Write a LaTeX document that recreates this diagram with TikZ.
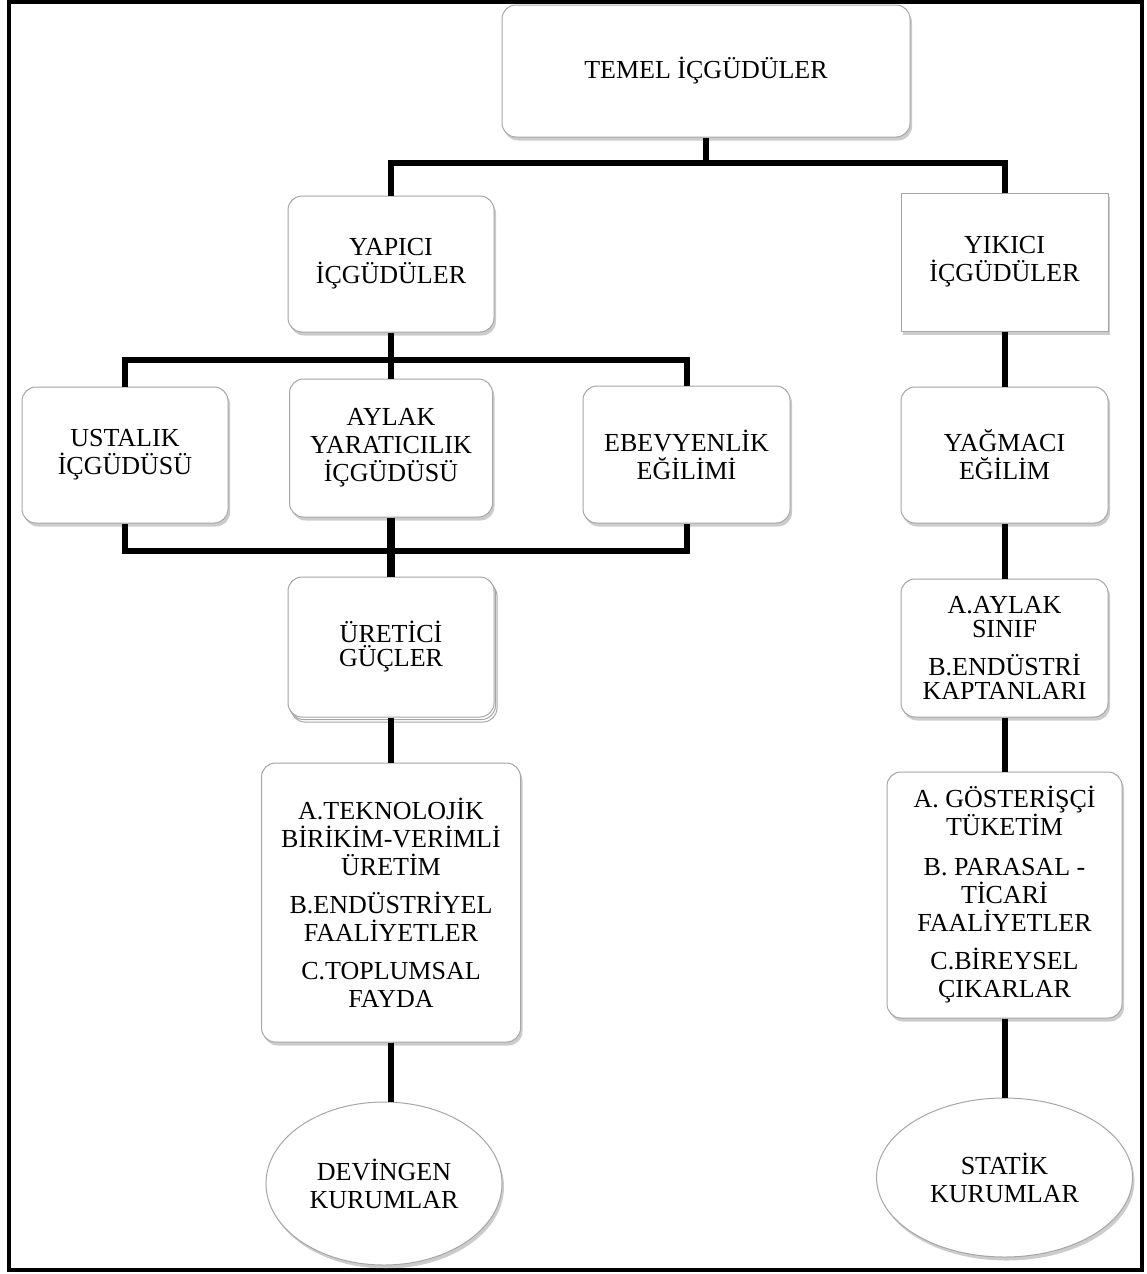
\documentclass[tikz,border=0pt]{standalone}
\usepackage{fontspec}
\setmainfont{Liberation Serif}
\usetikzlibrary{shapes.geometric,shadows}
\begin{document}
\begin{tikzpicture}[x=1pt,y=-1pt,
  txt/.style={align=center, inner sep=0pt, font=\fontsize{26}{28}\selectfont},
  box/.style={txt, draw=gray!70, line width=1pt, fill=white, rounded corners=14pt,
    drop shadow={shadow xshift=2pt, shadow yshift=-3.5pt, opacity=0.4}},
  sqbox/.style={txt, draw=gray!70, line width=1pt, fill=white,
    drop shadow={shadow xshift=2pt, shadow yshift=-3.5pt, opacity=0.4}},
  stackbox/.style={box, double copy shadow={shadow xshift=1.5pt, shadow yshift=-2.5pt, fill=white, draw=gray!70, line width=1pt}},
  oval/.style={txt, ellipse, draw=gray!70, line width=1pt, fill=white,
    drop shadow={shadow xshift=2pt, shadow yshift=-3.5pt, opacity=0.4}},
  tight/.style={font=\fontsize{26}{24}\selectfont},
  conn/.style={line width=6pt}]
\useasboundingbox (0,0) rectangle (1147,1274);
\fill[white] (0,0) rectangle (1147,1274);
\draw[line width=4.5pt] (9,2) rectangle (1142,1270);

% nodes
\node[box, minimum width=408pt, minimum height=132pt] (temel) at (706,71) {TEMEL İÇGÜDÜLER};
\node[box, minimum width=206pt, minimum height=136pt] (yapici) at (391,264) {YAPICI\\İÇGÜDÜLER};
\node[sqbox, minimum width=207pt, minimum height=138pt] (yikici) at (1004.5,262) {YIKICI\\İÇGÜDÜLER};
\node[box, minimum width=206pt, minimum height=136pt] (ustalik) at (125,455) {USTALIK\\İÇGÜDÜSÜ};
\node[box, minimum width=203pt, minimum height=138pt] (aylak) at (391,448) {AYLAK\\YARATICILIK\\İÇGÜDÜSÜ};
\node[box, minimum width=207pt, minimum height=137pt] (ebev) at (686.5,454.5) {EBEVYENLİK\\EĞİLİMİ};
\node[box, minimum width=207pt, minimum height=136pt] (yagmaci) at (1004.5,455) {YAĞMACI\\EĞİLİM};
\node[stackbox, tight, minimum width=206pt, minimum height=140pt] (uretici) at (391,647) {ÜRETİCİ\\GÜÇLER};
\node[box, tight, minimum width=207pt, minimum height=138pt] (sinif) at (1004.5,648) {A.AYLAK\\SINIF\\[14pt]B.ENDÜSTRİ\\KAPTANLARI};
\node[box, minimum width=259pt, minimum height=279pt] (tekno) at (391,902.5) {A.TEKNOLOJİK\\BİRİKİM-VERİMLİ\\ÜRETİM\\[10pt]B.ENDÜSTRİYEL\\FAALİYETLER\\[10pt]C.TOPLUMSAL\\FAYDA};
\node[box, minimum width=235pt, minimum height=246pt] (goster) at (1004.5,895) {A. GÖSTERİŞÇİ\\TÜKETİM\\[12pt]B. PARASAL -\\TİCARİ\\FAALİYETLER\\[10pt]C.BİREYSEL\\ÇIKARLAR};
\node[oval, minimum width=236pt, minimum height=163pt] (devingen) at (384,1183.5) {DEVİNGEN\\KURUMLAR};
\node[oval, minimum width=256pt, minimum height=159pt] (statik) at (1004.5,1177.5) {STATİK\\KURUMLAR};

% connectors
\coordinate (t1) at (706,163);
\coordinate (b1) at (391,360);
\coordinate (b2) at (391,551);
\draw[conn] (temel.south) -- (t1);
\draw[conn] (yapici.north) |- (t1) -| (yikici.north);
\draw[conn] (yapici.south) -- (b1);
\draw[conn] (ustalik.north) |- (b1) -| (ebev.north);
\draw[conn] (b1) -- (aylak.north);
\draw[conn] (ustalik.south) |- (b2) -| (ebev.south);
\draw[line width=8pt] (aylak.south) -- (uretici.north);
\draw[conn] (uretici.south) -- (tekno.north);
\draw[conn] (tekno.south) -- (tekno.south |- devingen.north);
\draw[conn] (yikici.south) -- (yagmaci.north);
\draw[conn] (yagmaci.south) -- (sinif.north);
\draw[conn] (sinif.south) -- (goster.north);
\draw[conn] (goster.south) -- (statik.north);
\end{tikzpicture}
\end{document}
